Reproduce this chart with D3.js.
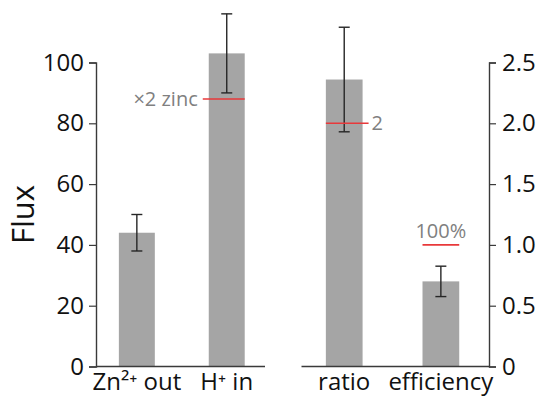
<!DOCTYPE html>
<html>
<head>
<meta charset="utf-8">
<script src="https://cdn.jsdelivr.net/npm/d3@7"></script>
<style>
  html, body { margin: 0; padding: 0; background: #fff; }
  svg text { font-family: "Open Sans", "Noto Sans", sans-serif; }
</style>
</head>
<body>
<svg id="chart" width="543" height="398"></svg>
<script>
// left panel: fluxes
const fluxCats = ['Zn\u00b2\u207a out', 'H\u207a in'];
const fluxVals = [44, 103];
const fluxErr = [6, 13];
const fluxTicks = [0, 20, 40, 60, 80, 100];

// right panel: ratio / efficiency
const ratioCats = ['ratio', 'efficiency'];
const ratioVals = [2.36, 0.70];
const ratioErr = [0.43, 0.125];
const ratioTicks = [0, 0.5, 1.0, 1.5, 2.0, 2.5];

// reference lines (value, label) per bar
const fluxRefs = [null, { v: 88, label: '\u00d72 zinc' }];
const ratioRefs = [{ v: 2, label: '2' }, { v: 1, label: '100%' }];

const BAR = '#a5a5a5', AXIS = '#3a3a3a', ERR = '#262626', RED = '#e8383a', GREY = '#808080';

const svg = d3.select('#chart');
const y0 = 366.5, y1 = 62.5;

const yL = d3.scaleLinear().domain([0, 100]).range([y0, y1]);
const yR = d3.scaleLinear().domain([0, 2.5]).range([y0, y1]);

const xL = d3.scaleBand().domain(fluxCats).range([96, 265]).paddingInner(0.6).paddingOuter(0.24).align(0.53);
const xR = d3.scaleBand().domain(ratioCats).range([301.5, 489]).paddingInner(0.62).paddingOuter(0.28).align(0.45);

function panel(x, y, cats, vals, errs, refs, refSide) {
    const g = svg.append('g');
    g.selectAll('rect.bar').data(vals).join('rect')
        .attr('class', 'bar')
        .attr('x', function (d, i) { return x(cats[i]); })
        .attr('width', x.bandwidth())
        .attr('y', function (d) { return y(d); })
        .attr('height', function (d) { return y(0) - y(d); })
        .attr('fill', BAR);

    // error bars
    vals.forEach(function (v, i) {
        const cx = x(cats[i]) + x.bandwidth() / 2;
        const top = y(v + errs[i]), bot = y(v - errs[i]);
        g.append('line').attr('x1', cx).attr('x2', cx).attr('y1', top).attr('y2', bot)
            .attr('stroke', ERR).attr('stroke-width', 1.4);
        [top, bot].forEach(function (yy) {
            g.append('line').attr('x1', cx - 5.5).attr('x2', cx + 5.5).attr('y1', yy).attr('y2', yy)
                .attr('stroke', ERR).attr('stroke-width', 1.4);
        });
    });

    // red reference lines with grey labels
    refs.forEach(function (r, i) {
        if (!r) return;
        const bx = x(cats[i]), bw = x.bandwidth();
        const ry = y(r.v);
        const side = refSide[i];
        const lx1 = side === 'left' ? bx - 6 : bx;
        const lx2 = side === 'right' ? bx + bw + 6 : bx + bw;
        g.append('line').attr('x1', lx1).attr('x2', lx2).attr('y1', ry).attr('y2', ry)
            .attr('stroke', RED).attr('stroke-width', 1.6);
        const t = g.append('text').attr('fill', GREY).attr('font-size', 20).text(r.label);
        if (side === 'left') {
            t.attr('x', lx1 - 5).attr('y', ry).attr('dy', '0.35em').attr('text-anchor', 'end');
        } else if (side === 'right') {
            t.attr('x', lx2 + 3).attr('y', ry).attr('dy', '0.35em').attr('text-anchor', 'start');
        } else {
            t.attr('x', bx + bw / 2).attr('y', ry - 7).attr('text-anchor', 'middle');
        }
    });

    // baseline
    g.append('line').attr('x1', x.range()[0]).attr('x2', x.range()[1]).attr('y1', y(0)).attr('y2', y(0))
        .attr('stroke', AXIS).attr('stroke-width', 1.4);

    // category labels
    g.selectAll('text.cat').data(cats).join('text')
        .attr('class', 'cat')
        .attr('x', function (d) { return x(d) + x.bandwidth() / 2; })
        .attr('y', 390)
        .attr('text-anchor', 'middle')
        .attr('font-size', 24)
        .attr('fill', '#111')
        .text(function (d) { return d; });
    return g;
}

panel(xL, yL, fluxCats, fluxVals, fluxErr, fluxRefs, [null, 'left']);
panel(xR, yR, ratioCats, ratioVals, ratioErr, ratioRefs, ['right', 'top']);

// left axis
const axL = svg.append('g').attr('transform', 'translate(96,0)')
    .call(d3.axisLeft(yL).tickValues(fluxTicks).tickSizeOuter(0).tickSize(7).tickPadding(5));
// right axis
const axR = svg.append('g').attr('transform', 'translate(489,0)')
    .call(d3.axisRight(yR).tickValues(ratioTicks).tickSizeOuter(0).tickSize(7).tickPadding(6)
        .tickFormat(function (d) { return d === 0 ? '0' : d3.format('.1f')(d); }));

[axL, axR].forEach(function (ax) {
    ax.select('.domain').attr('stroke', AXIS).attr('stroke-width', 1.4);
    ax.selectAll('.tick line').attr('stroke', AXIS).attr('stroke-width', 1.2);
    ax.selectAll('.tick text').attr('font-size', 24).attr('fill', '#111')
        .attr('font-family', '"Open Sans", "Noto Sans", sans-serif');
});

// y title
svg.append('text')
    .attr('transform', 'translate(34,' + (y0 + y1) / 2 + ') rotate(-90)')
    .attr('text-anchor', 'middle')
    .attr('font-size', 31)
    .attr('fill', '#111')
    .text('Flux');
</script>
</body>
</html>
